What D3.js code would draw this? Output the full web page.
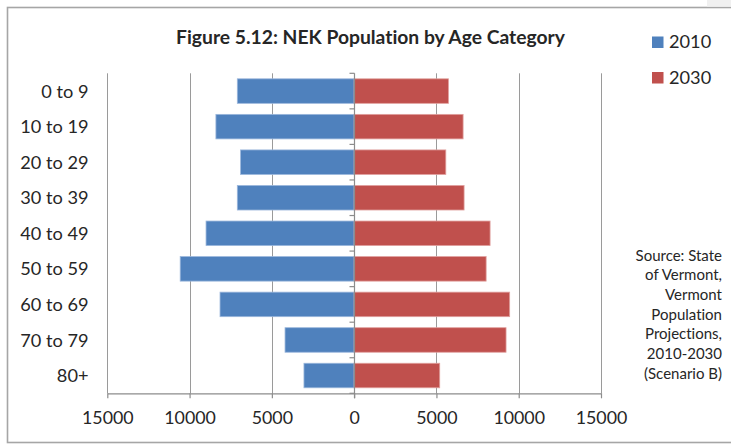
<!DOCTYPE html>
<html>
<head>
<meta charset="utf-8">
<script src="https://cdn.jsdelivr.net/npm/d3@7"></script>
<style>
  html, body { margin: 0; padding: 0; background: #fff; }
  svg { display: block; }
  text { font-family: Lato, "Open Sans", sans-serif; fill: #262626; font-variant-ligatures: none; }
</style>
</head>
<body>
<svg id="chart" width="731" height="445"></svg>
<script>
// Age groups and population counts (NEK region)
const categories = ["0 to 9", "10 to 19", "20 to 29", "30 to 39", "40 to 49",
                    "50 to 59", "60 to 69", "70 to 79", "80+"];
const pop2010 = [7100, 8400, 6900, 7100, 9000, 10570, 8150, 4200, 3050];
const pop2030 = [5730, 6620, 5570, 6680, 8260, 8020, 9450, 9230, 5200];
const seriesNames = ["2010", "2030"];
const xTicks = [-15000, -10000, -5000, 0, 5000, 10000, 15000];
const sourceLines = ["Source: State", "of Vermont,", "Vermont", "Population",
                     "Projections,", "2010-2030", "(Scenario B)"];

const colors = { "2010": "#4F81BD", "2030": "#C0504D" };
const strokes = { "2010": "#9bb7dc", "2030": "#e0a09e" };

const svg = d3.select("#chart");

// outer frame (right edge runs off the page)
svg.append("rect")
  .attr("x", 7.5).attr("y", 7.5)
  .attr("width", 760).attr("height", 435)
  .attr("fill", "none").attr("stroke", "#a6a6a6").attr("stroke-width", 1.6);
svg.append("rect")
  .attr("x", 707).attr("y", 0).attr("width", 24).attr("height", 6.5)
  .attr("fill", "#f0f0f0");

const plot = { left: 107.3, right: 601, top: 73.3, bottom: 393.3 };

const x = d3.scaleLinear().domain([-15000, 15000]).range([plot.left, plot.right]);
const y = d3.scaleBand().domain(categories)
  .range([plot.top, plot.bottom])
  .paddingInner(0.31).paddingOuter(0.155);

// vertical gridlines
svg.append("g").selectAll("line")
  .data(xTicks.filter(t => t !== 0))
  .join("line")
  .attr("x1", d => Math.round(x(d)) + 0.5).attr("x2", d => Math.round(x(d)) + 0.5)
  .attr("y1", plot.top).attr("y2", plot.bottom)
  .attr("stroke", "#9a9a9a").attr("stroke-width", 1);

// bars
const rows = categories.map((c, i) => ({ cat: c, v2010: pop2010[i], v2030: pop2030[i] }));
svg.append("g").selectAll("rect")
  .data(rows)
  .join("rect")
  .attr("x", d => x(-d.v2010))
  .attr("width", d => x(0) - x(-d.v2010))
  .attr("y", d => y(d.cat))
  .attr("height", y.bandwidth())
  .attr("fill", colors["2010"])
  .attr("stroke", strokes["2010"]).attr("stroke-width", 0.8);
svg.append("g").selectAll("rect")
  .data(rows)
  .join("rect")
  .attr("x", x(0))
  .attr("width", d => x(d.v2030) - x(0))
  .attr("y", d => y(d.cat))
  .attr("height", y.bandwidth())
  .attr("fill", colors["2030"])
  .attr("stroke", strokes["2030"]).attr("stroke-width", 0.8);

// category axis at zero, ticks on band boundaries
const x0 = Math.round(x(0)) + 0.5;
const yAxis = svg.append("g");
yAxis.append("line")
  .attr("x1", x0).attr("x2", x0)
  .attr("y1", plot.top).attr("y2", plot.bottom + 5)
  .attr("stroke", "#8c8c8c").attr("stroke-width", 1.2);
const step = y.step();
yAxis.selectAll("line.tick")
  .data(d3.range(categories.length + 1))
  .join("line").attr("class", "tick")
  .attr("x1", x0 - 5).attr("x2", x0)
  .attr("y1", i => plot.top + i * step).attr("y2", i => plot.top + i * step)
  .attr("stroke", "#8c8c8c").attr("stroke-width", 1.2);

// category labels on the low side
svg.append("g").selectAll("text")
  .data(categories)
  .join("text")
  .attr("x", 88.5)
  .attr("y", d => y(d) + y.bandwidth() / 2)
  .attr("dy", "0.36em")
  .attr("text-anchor", "end")
  .style("font-size", "18.2px")
  .text(d => d);

// value axis along the bottom
const xAxis = svg.append("g")
  .attr("transform", `translate(0,${plot.bottom})`)
  .call(d3.axisBottom(x).tickValues(xTicks).tickSize(5).tickSizeOuter(0)
        .tickFormat(d => String(Math.abs(d))));
xAxis.select(".domain").attr("stroke", "#8c8c8c").attr("stroke-width", 1.2);
xAxis.selectAll(".tick line").attr("stroke", "#8c8c8c").attr("stroke-width", 1.2);
xAxis.selectAll(".tick text")
  .attr("y", 17).attr("dy", "0.75em")
  .style("font-size", "17.8px").style("font-family", "Lato, sans-serif")
  .attr("fill", "#262626");

// title
svg.append("text")
  .attr("x", 370.5).attr("y", 44)
  .attr("text-anchor", "middle")
  .style("font-size", "19.3px").style("font-weight", "700")
  .attr("fill", "#1a1a1a")
  .text("Figure 5.12: NEK Population by Age Category");

// legend
const legend = svg.append("g").selectAll("g")
  .data(seriesNames)
  .join("g")
  .attr("transform", (d, i) => `translate(652,${36.5 + i * 35.5})`);
legend.append("rect")
  .attr("width", 11.5).attr("height", 11.5)
  .attr("fill", d => colors[d]);
legend.append("text")
  .attr("x", 17).attr("y", 11.5)
  .style("font-size", "18.2px")
  .text(d => d);

// source note
svg.append("text")
  .attr("text-anchor", "end")
  .style("font-size", "15px")
  .selectAll("tspan")
  .data(sourceLines)
  .join("tspan")
  .attr("x", 722)
  .attr("y", (d, i) => 260.5 + i * 19.7)
  .text(d => d);
</script>
</body>
</html>
